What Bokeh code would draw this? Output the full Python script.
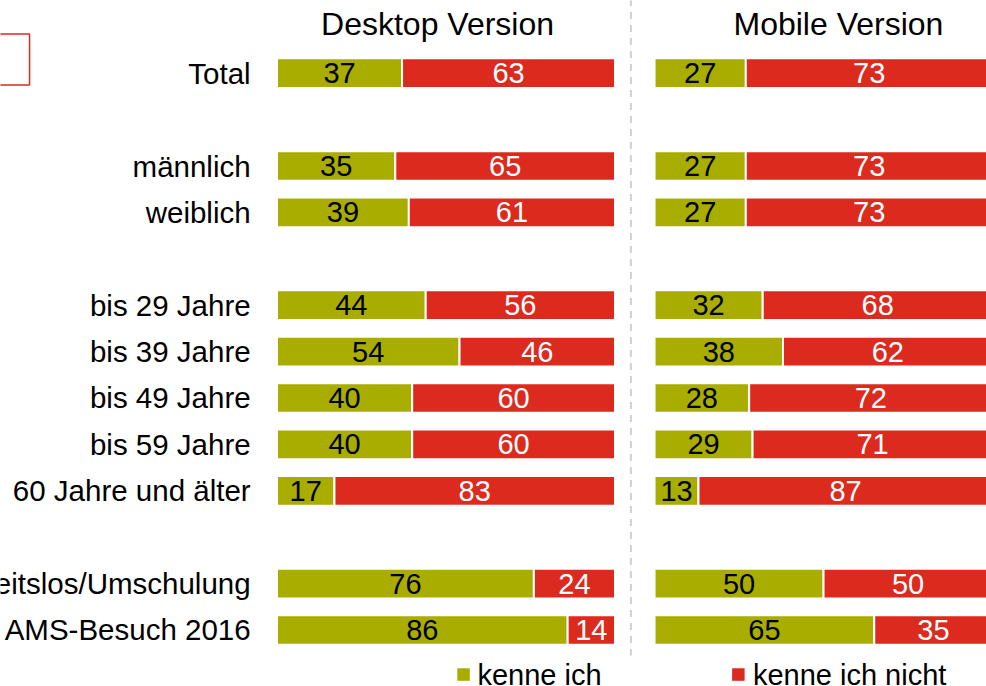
from bokeh.plotting import figure
from bokeh.models import Range1d, ColumnDataSource
from bokeh.core.properties import value
from bokeh.embed import file_html
from bokeh.resources import INLINE

# ---- data ----
categories = ["Total", "männlich", "weiblich", "bis 29 Jahre", "bis 39 Jahre",
              "bis 49 Jahre", "bis 59 Jahre", "60 Jahre und älter",
              "arbeitslos/Umschulung", "AMS-Besuch 2016"]
group_sizes = [1, 2, 5, 2]
desktop_kenne = [37, 35, 39, 44, 54, 40, 40, 17, 76, 86]
desktop_nicht = [63, 65, 61, 56, 46, 60, 60, 83, 24, 14]
mobile_kenne = [27, 27, 27, 32, 38, 28, 29, 13, 50, 65]
mobile_nicht = [73, 73, 73, 68, 62, 72, 71, 87, 50, 35]
panel_titles = ["Desktop Version", "Mobile Version"]
legend_labels = ["kenne ich", "kenne ich nicht"]

GREEN = "#a8ad00"
RED = "#dc2a1f"
FONT = "Liberation Sans"

# ---- row positions (gap of one row between groups) ----
ys = []
pos = 0
for g in group_sizes:
    for _ in range(g):
        ys.append(pos)
        pos += 1
    pos += 1

p = figure(width=986, height=686, output_backend="svg", toolbar_location=None,
           x_range=Range1d(-81.8, 209.91), y_range=Range1d(13.218, -1.567),
           min_border=0)
p.axis.visible = False
p.grid.visible = False
p.outline_line_color = None
p.background_fill_color = "white"
p.border_fill_color = "white"

MOBILE_OFFSET = 111.7
BAR_H = 0.64

for offset, kenne, nicht in [(0, desktop_kenne, desktop_nicht),
                             (MOBILE_OFFSET, mobile_kenne, mobile_nicht)]:
    src = ColumnDataSource(dict(
        y=ys,
        g_left=[offset] * len(ys),
        g_right=[offset + k for k in kenne],
        r_left=[offset + k for k in kenne],
        r_right=[offset + k + n for k, n in zip(kenne, nicht)],
        g_mid=[offset + k / 2 for k in kenne],
        r_mid=[offset + k + n / 2 for k, n in zip(kenne, nicht)],
        g_txt=[str(k) for k in kenne],
        r_txt=[str(n) for n in nicht],
        top=[y - BAR_H / 2 for y in ys],
        bottom=[y + BAR_H / 2 for y in ys],
    ))
    p.quad(left="g_left", right="g_right", top="top", bottom="bottom", source=src,
           fill_color=GREEN, line_color="white", line_width=2)
    p.quad(left="r_left", right="r_right", top="top", bottom="bottom", source=src,
           fill_color=RED, line_color="white", line_width=2)
    p.text(x="g_mid", y="y", text="g_txt", source=src, text_align="center",
           text_baseline="middle", text_font=value(FONT), text_font_size="29px",
           text_color="black")
    p.text(x="r_mid", y="y", text="r_txt", source=src, text_align="center",
           text_baseline="middle", text_font=value(FONT), text_font_size="29px",
           text_color="white")

# category labels
p.text(x=[-7.8] * len(ys), y=ys, text=categories, text_align="right",
       text_baseline="middle", text_font=value(FONT), text_font_size="29.5px",
       text_color="black")

# panel titles
p.text(x=[47.5, 166.1], y=[-1.05, -1.05], text=panel_titles, text_align="center",
       text_baseline="middle", text_font=value(FONT), text_font_size="32px",
       text_color="black")

# dashed separator
p.segment(x0=[104.7], y0=[-1.6], x1=[104.7], y1=[12.55], line_color="#d0d0d0",
          line_width=2, line_dash="7 6")

# partial red box at top-left (cropped element)
p.quad(left=[-100], right=[-73.2], top=[-0.845], bottom=[0.254],
       fill_color=None, line_color=RED, line_width=1.5)

# legend
p.rect(x=[55.2, 136.5], y=[12.96, 12.96], width=3.7, height=0.27,
       fill_color=[GREEN, RED], line_color=None)
p.text(x=[59.3, 140.8], y=[12.96, 12.96], text=legend_labels, text_align="left",
       text_baseline="middle", text_font=value(FONT), text_font_size="29px",
       text_color="black")

open("out.html", "w").write(file_html(p, INLINE))
